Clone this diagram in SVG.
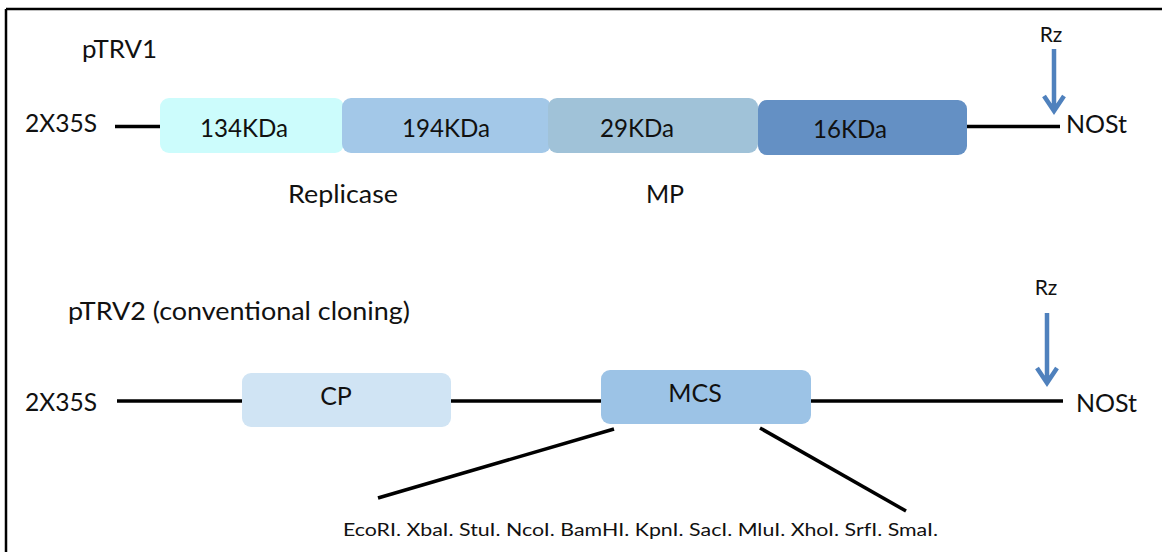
<svg xmlns="http://www.w3.org/2000/svg" width="1162" height="552" viewBox="0 0 1162 552">
<defs>
<style>
.t{font-family:Lato,"Liberation Sans",sans-serif;fill:#111;}
.big{font-size:25px;}
.sm{font-size:21px;}
.ln{stroke:#000;stroke-width:3.5;fill:none;}
.arr{stroke:#4f81bd;stroke-width:4.5;fill:none;stroke-linecap:butt;stroke-linejoin:miter;}
</style>
</defs>
<rect width="1162" height="552" fill="#fff"/>
<g id="frame">
<line x1="6" y1="9" x2="1162" y2="9" stroke="#000" stroke-width="2.5"/>
<line x1="6" y1="9" x2="6" y2="552" stroke="#000" stroke-width="2.5"/>
</g>
<g id="connectors">
<line class="ln" x1="115" y1="126.5" x2="162" y2="126.5"/>
<line class="ln" x1="965" y1="126.5" x2="1060" y2="126.5"/>
<line class="ln" x1="117" y1="401" x2="244" y2="401"/>
<line class="ln" x1="449" y1="401" x2="603" y2="401"/>
<line class="ln" x1="808" y1="401" x2="1063" y2="401"/>
<line class="ln" x1="614" y1="429" x2="378" y2="498"/>
<line class="ln" x1="760" y1="428" x2="906" y2="511"/>
<path class="arr" d="M1054 49 V111 M1044 96 L1054 111 L1064 96"/>
<path class="arr" d="M1047 313 V383 M1037 368 L1047 383 L1057 368"/>
</g>
<g id="label-ptrv1"><text class="t big" x="82" y="58" textLength="75" lengthAdjust="spacingAndGlyphs">pTRV1</text></g>
<g id="label-35s-1"><text class="t big" x="25" y="132" textLength="72" lengthAdjust="spacingAndGlyphs">2X35S</text></g>
<g id="node-134"><rect x="160" y="98" width="184" height="55" rx="9" fill="#ccfcfc"/><text class="t big" x="200" y="137" textLength="88" lengthAdjust="spacingAndGlyphs">134KDa</text></g>
<g id="node-194"><rect x="342" y="98" width="209" height="55" rx="9" fill="#a3c8e8"/><text class="t big" x="402" y="137" textLength="88" lengthAdjust="spacingAndGlyphs">194KDa</text></g>
<g id="node-29"><rect x="548" y="98" width="210" height="55" rx="9" fill="#a0c2d8"/><text class="t big" x="600" y="137" textLength="74" lengthAdjust="spacingAndGlyphs">29KDa</text></g>
<g id="node-16"><rect x="758" y="100" width="209" height="55" rx="9" fill="#6490c4"/><text class="t big" x="813" y="138" textLength="74" lengthAdjust="spacingAndGlyphs">16KDa</text></g>
<g id="label-nost-1"><text class="t big" x="1066" y="133">NOSt</text></g>
<g id="label-rz-1"><text class="t sm" x="1051" y="42" text-anchor="middle">Rz</text></g>
<g id="label-replicase"><text class="t big" x="288" y="203" textLength="110" lengthAdjust="spacingAndGlyphs">Replicase</text></g>
<g id="label-mp"><text class="t big" x="665" y="203" text-anchor="middle">MP</text></g>
<g id="label-ptrv2"><text class="t big" x="68" y="320" textLength="342" lengthAdjust="spacingAndGlyphs">pTRV2 (conventional cloning)</text></g>
<g id="label-35s-2"><text class="t big" x="25" y="411" textLength="72" lengthAdjust="spacingAndGlyphs">2X35S</text></g>
<g id="node-cp"><rect x="242" y="373" width="209" height="54" rx="9" fill="#d0e4f4"/><text class="t big" x="336" y="405" text-anchor="middle">CP</text></g>
<g id="node-mcs"><rect x="601" y="370" width="210" height="54" rx="9" fill="#9cc3e6"/><text class="t big" x="695" y="402" text-anchor="middle">MCS</text></g>
<g id="label-nost-2"><text class="t big" x="1076" y="412">NOSt</text></g>
<g id="label-rz-2"><text class="t sm" x="1046" y="295" text-anchor="middle">Rz</text></g>
<g id="label-enzymes"><text class="t" font-size="18" x="343" y="536" textLength="595" lengthAdjust="spacingAndGlyphs">EcoRI. XbaI. StuI. NcoI. BamHI. KpnI. SacI. MluI. XhoI. SrfI. SmaI.</text></g>
</svg>
